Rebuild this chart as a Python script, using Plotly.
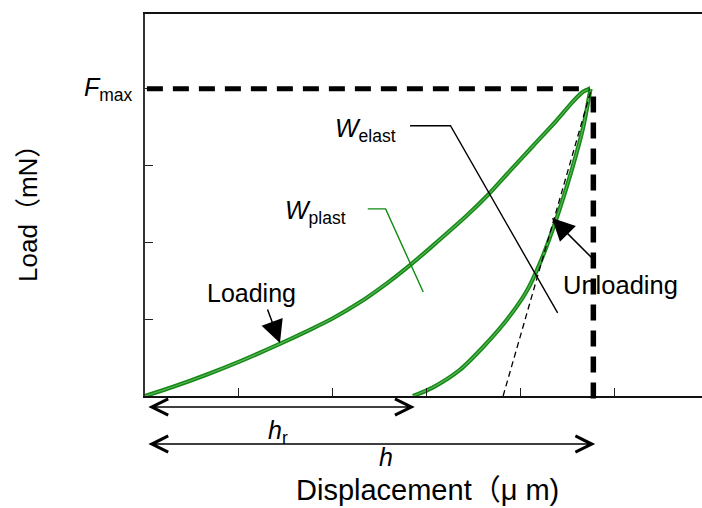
import plotly.graph_objects as go

# ---- data ----
load_x = [0, 0.30, 0.66, 1.01, 1.44, 1.72, 2.00, 2.29, 2.57, 2.82, 3.06, 3.43, 3.64, 3.88, 4.13, 4.38, 4.55, 4.66, 4.73]
load_y = [0, 0.12, 0.28, 0.45, 0.68, 0.84, 1.01, 1.22, 1.46, 1.70, 1.95, 2.35, 2.60, 2.92, 3.25, 3.58, 3.82, 3.95, 3.99]
unload_x = [2.85, 3.06, 3.35, 3.60, 3.85, 4.06, 4.20, 4.34, 4.48, 4.59, 4.66, 4.74]
unload_y = [0, 0.11, 0.34, 0.64, 0.99, 1.36, 1.72, 2.17, 2.69, 3.15, 3.48, 3.99]
tangent_x = [3.81, 4.75]
tangent_y = [0, 3.99]
F_max = 3.99
h_max = 4.77
h_r = 2.87
welast_leader_x = [2.82, 3.25, 4.39]
welast_leader_y = [3.51, 3.51, 1.08]
wplast_leader_x = [2.37, 2.56, 2.96]
wplast_leader_y = [2.43, 2.43, 1.35]

X_MAX = 5.926
Y_MAX = 4.961
FONT = "Liberation Sans, Noto Sans CJK JP, sans-serif"
GREEN = "#138a13"
GREEN_IN = "#5cb35c"

fig = go.Figure()
for cx, cy in [(load_x, load_y), (unload_x, unload_y)]:
    fig.add_trace(go.Scatter(x=cx, y=cy, mode="lines",
                             line=dict(color=GREEN, width=4.2, shape="spline", smoothing=0.8),
                             hoverinfo="skip"))
    fig.add_trace(go.Scatter(x=cx, y=cy, mode="lines",
                             line=dict(color=GREEN_IN, width=1.2, shape="spline", smoothing=0.8),
                             hoverinfo="skip"))
fig.add_trace(go.Scatter(x=tangent_x, y=tangent_y, mode="lines",
                         line=dict(color="black", width=1.3, dash="6px,4px"), hoverinfo="skip"))
fig.add_trace(go.Scatter(x=welast_leader_x, y=welast_leader_y, mode="lines",
                         line=dict(color="black", width=1.4), hoverinfo="skip"))
fig.add_trace(go.Scatter(x=wplast_leader_x, y=wplast_leader_y, mode="lines",
                         line=dict(color="#108a10", width=1.4), hoverinfo="skip"))

# Fmax dashed horizontal
fig.add_shape(type="line", xref="x", yref="y", x0=0.02, x1=4.73, y0=F_max, y1=F_max,
              line=dict(color="black", width=5, dash="16px,10px"))
# h_max dashed vertical (extends slightly below the axis)
fig.add_shape(type="line", xref="paper", yref="paper", x0=h_max / X_MAX, x1=h_max / X_MAX,
              y0=(F_max - 0.1) / Y_MAX, y1=-0.012,
              line=dict(color="black", width=5.5, dash="16px,10px"))

ann = []
# double arrows under the axis
for xv, yp in [(h_r, -0.0288), (h_max + 0.02, -0.1257)]:
    ann.append(dict(x=xv, y=yp, xref="x", yref="paper", ax=0.02, ay=0, axref="x", ayref="pixel",
                    text="", font=dict(size=1), showarrow=True, arrowside="end+start",
                    arrowhead=5, startarrowhead=5, arrowsize=2.0, startarrowsize=2.0,
                    arrowwidth=1.6, arrowcolor="black"))
# Loading / Unloading pointer arrows
ann.append(dict(x=1.436, y=0.688, xref="x", yref="y", ax=-13, ay=-35, text="", font=dict(size=1),
                showarrow=True, arrowhead=2, arrowsize=3.0, arrowwidth=1.5, arrowcolor="black"))
ann.append(dict(x=4.33, y=2.312, xref="x", yref="y", ax=45, ay=45, text="", font=dict(size=1),
                showarrow=True, arrowhead=2, arrowsize=3.0, arrowwidth=1.5, arrowcolor="black"))

def txt(t, x, y, size, xref="x", yref="y", xanchor="center", yanchor="middle", angle=0):
    return dict(text=t, x=x, y=y, xref=xref, yref=yref, showarrow=False, xanchor=xanchor,
                yanchor=yanchor, textangle=angle, font=dict(family=FONT, size=size, color="black"))

ann.append(txt("Loading", 1.138, 1.338, 25))
ann.append(txt("Unloading", 5.064, 1.442, 25.5))
ann.append(txt("<i>W</i><sub>elast</sub>", 2.0, 3.455, 25, xanchor="left"))
ann.append(txt("<i>W</i><sub>plast</sub>", 1.468, 2.39, 25, xanchor="left"))
ann.append(txt("<i>F</i><sub>max</sub>", -0.018, F_max / Y_MAX, 25, xref="paper", yref="paper", xanchor="right"))
ann.append(txt("<i>h</i><sub>r</sub>", 1.415, -0.094, 25, yref="paper"))
ann.append(txt("<i>h</i>", 2.564, -0.16, 25, yref="paper"))
ann.append(txt("Displacement（μ m)", 0.508, -0.246, 29, xref="paper", yref="paper"))
ann.append(txt("Load（mN）", -0.21, 0.495, 26, xref="paper", yref="paper", angle=-90))

fig.update_layout(
    width=702, height=508,
    margin=dict(l=145, r=0, t=14, b=112),
    paper_bgcolor="white", plot_bgcolor="white",
    showlegend=False,
    annotations=ann,
    xaxis=dict(range=[0, X_MAX], dtick=1, tick0=0, ticks="inside", ticklen=8, tickwidth=1,
               tickcolor="#222", showticklabels=False, showgrid=False, zeroline=False,
               showline=True, linecolor="#111", linewidth=1.5, mirror=True),
    yaxis=dict(range=[0, Y_MAX], dtick=1, tick0=0, ticks="inside", ticklen=8, tickwidth=1,
               tickcolor="#222", showticklabels=False, showgrid=False, zeroline=False,
               showline=True, linecolor="#333", linewidth=1.5),
)
fig.write_html("out.html", config={"displayModeBar": False},
               post_script="document.body.style.margin='0';document.body.style.overflow='hidden';")
